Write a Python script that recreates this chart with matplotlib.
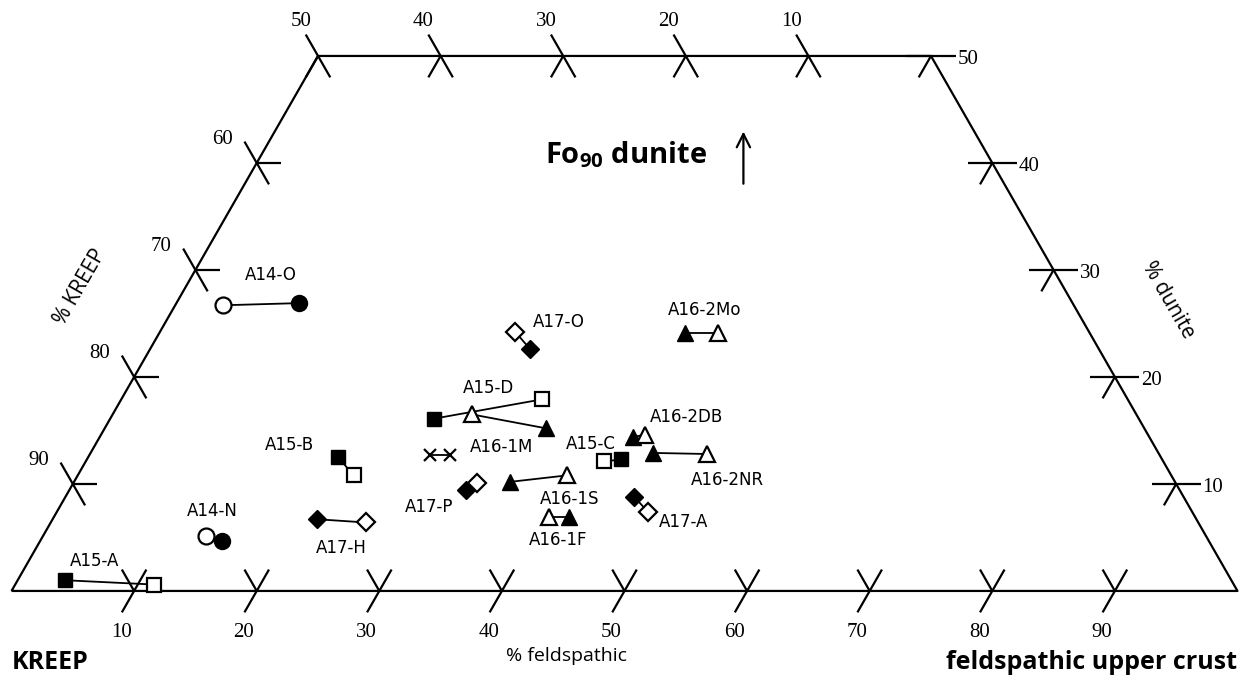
import matplotlib
matplotlib.use("Agg")
import numpy as np
import matplotlib.pyplot as plt

# sample pairs: feldspathic % and dunite % (KREEP = 100 - feld - dunite)
names = ['A14-O', 'A14-N', 'A15-A', 'A15-B', 'A15-C', 'A15-D',
         'A16-1M', 'A16-1S', 'A16-1F', 'A16-2DB', 'A16-2NR', 'A16-2Mo',
         'A17-H', 'A17-O', 'A17-P', 'A17-A']
shapes = ['o', 'o', 's', 's', 's', 's',
          '^', '^', '^', '^', '^', '^',
          'D', 'D', 'D', 'D']
filled_feld = [10.0, 14.8, 3.9, 20.4, 43.6, 26.4, 36.0, 35.6, 42.0, 43.5, 45.9, 42.9, 21.6, 31.0, 32.4, 46.4]
filled_dun = [26.9, 4.7, 1.0, 12.5, 12.3, 16.1, 15.2, 10.2, 6.9, 14.4, 12.9, 24.1, 6.7, 22.6, 9.4, 8.8]
open_feld = [3.9, 13.3, 11.3, 22.5, 42.3, 34.3, 29.3, 39.9, 40.4, 44.4, 50.3, 45.6, 25.7, 29.0, 32.9, 48.2]
open_dun = [26.7, 5.1, 0.6, 10.8, 12.1, 17.9, 16.5, 10.8, 6.9, 14.6, 12.8, 24.1, 6.4, 24.2, 10.1, 7.4]

# the unlabelled x--x pair
x_feld = [27.8, 29.4]
x_dun = [12.7, 12.7]

# label anchor positions (feld, dunite)
label_feld = [6.4, 12.6, 5.4, 15.9, 40.4, 29.4, 33.2, 41.2, 42.2, 46.9, 53.2, 43.4, 24.9, 32.1, 30.2, 51.6]
label_dun = [29.5, 7.5, 2.8, 13.6, 13.7, 19.0, 13.5, 8.6, 4.8, 16.3, 10.4, 26.3, 4.0, 25.1, 7.8, 6.4]

bottom_ticks = [10, 20, 30, 40, 50, 60, 70, 80, 90]   # % feldspathic
left_ticks = [60, 70, 80, 90]                        # % KREEP
top_ticks = [50, 40, 30, 20, 10]                     # % KREEP on the 50% dunite line
right_ticks = [50, 40, 30, 20, 10]                   # % dunite


def proj(f, d):
    f = np.asarray(f, float)
    d = np.asarray(d, float)
    return f + d / 2.0, d


fig = plt.figure(figsize=(12.49, 6.88), dpi=100)
ax = fig.add_axes([0, 0, 1, 1])
ax.set_xlim(-0.94, 100.94)
ax.set_ylim(-9.07, 55.23)
ax.axis('off')

lw = 1.6
k = dict(color='black', lw=lw, solid_capstyle='butt')

# outline, truncated at 50% dunite
ox, oy = proj([0, 100, 50, 0, 0], [0, 0, 50, 50, 0])
ax.plot(ox, oy, **k)


def seg(f0, d0, f1, d1):
    xs, ys = proj([f0, f1], [d0, d1])
    ax.plot(xs, ys, **k)


t = 2.0
tick_font = dict(family='Liberation Serif', fontsize=15)
for f in bottom_ticks:
    seg(f, -t, f, t)
    seg(f, 0, f - t, t)
    x, y = proj(f, 0)
    ax.text(x - 1.06, y - 3.9, str(f), ha='center', va='center', **tick_font)
for kr in left_ticks:
    d = 100 - kr
    seg(t, d - t, -t, d + t)
    seg(0, d, t, d)
    x, y = proj(0, d)
    ax.text(x - 2.8, y + 2.2, str(kr), ha='center', va='center', **tick_font)
for kr in top_ticks:
    f = 50 - kr
    seg(f + t, 50 - t, f - t, 50 + t)
    seg(f, 50, f, 50 - t)
    x, y = proj(f, 50)
    ax.text(x - 1.4, y + 3.2, str(kr), ha='center', va='center', **tick_font)
for d in right_ticks:
    f = 100 - d
    seg(f - t, d, f + t, d)
    seg(f, d, f, d - t)
    x, y = proj(f, d)
    ax.text(x + 2.15, y - 0.3, str(d), ha='left', va='center', **tick_font)

# sample pairs
msize = {'o': 11.5, 's': 10, '^': 11, 'D': 9.5}
for i in range(len(names)):
    xf, yf = proj(filled_feld[i], filled_dun[i])
    xo, yo = proj(open_feld[i], open_dun[i])
    ms = msize[shapes[i]]
    ax.plot([xf, xo], [yf, yo], color='black', lw=1.3, zorder=2)
    ax.plot(xf, yf, marker=shapes[i], ms=ms, color='black', mec='black', zorder=3)
    ax.plot(xo, yo, marker=shapes[i], ms=ms, mfc='white', mec='black', mew=1.6, zorder=4)
    lx, ly = proj(label_feld[i], label_dun[i])
    ax.text(lx, ly, names[i], ha='center', va='center', fontsize=12, family='DejaVu Sans')

xx, xy = proj(x_feld, x_dun)
ax.plot(xx, xy, color='black', lw=1.3, marker='x', ms=8, mew=1.6)

# titles
ax.text(5.6, 28.4, '% KREEP', rotation=60, ha='center', va='center', fontsize=15, family='Open Sans')
ax.text(94.3, 27.2, '% dunite', rotation=-60, ha='center', va='center', fontsize=15, family='Open Sans')
ax.text(45.3, -6.1, '% feldspathic', ha='center', va='center', fontsize=14, family='Open Sans')
ax.text(0.0, -6.7, 'KREEP', ha='left', va='center', fontsize=18, family='Open Sans', weight='bold')
ax.text(100.0, -6.7, 'feldspathic upper crust', ha='right', va='center', fontsize=18,
        family='Open Sans', weight='bold')
plt.rcParams['mathtext.default'] = 'regular'
ax.text(50.1, 40.8, 'Fo$_{90}$ dunite', ha='center', va='center', fontsize=21,
        family='Open Sans', weight='bold')
ax.annotate('', xy=(59.7, 43.2), xytext=(59.7, 37.8),
            arrowprops=dict(arrowstyle='->', lw=1.6, color='black', mutation_scale=24))

fig.savefig('out.png', dpi=100)
